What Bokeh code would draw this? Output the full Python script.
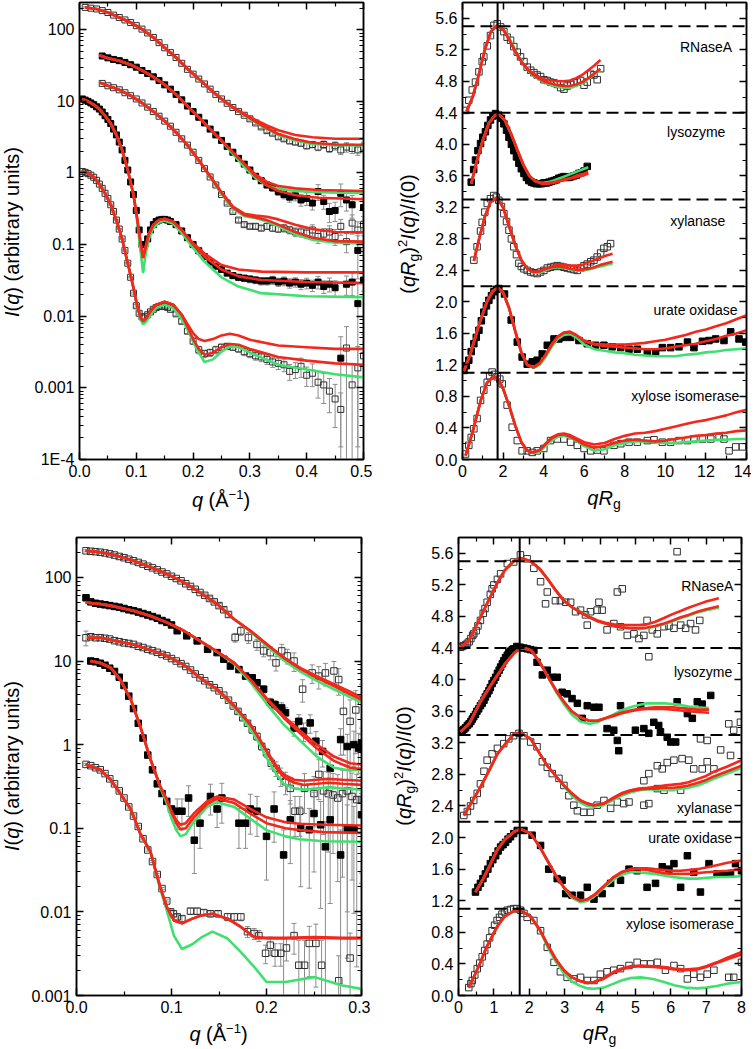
import math
from bokeh.plotting import figure
from bokeh.models import FixedTicker, LinearAxis, LogAxis, Span, Label, PrintfTickFormatter, Range1d, Div
from bokeh.layouts import row, column
from bokeh.embed import file_html
from bokeh.resources import INLINE

# ====================== DATA ======================
# ---- Panel A: I(q) vs q (top left) ----
A_RN_q = [0.01,0.02,0.03,0.04,0.05,0.06,0.07,0.08,0.09,0.10,0.11,0.12,0.13,0.14,0.15,0.16,0.17,0.18,0.19,0.20,
          0.21,0.22,0.23,0.24,0.25,0.26,0.27,0.28,0.29,0.30,0.31,0.32,0.33,0.34,0.35,0.36,0.37,0.38,0.39,0.40,
          0.41,0.42,0.43,0.44,0.45,0.46,0.47,0.48,0.49,0.50]
A_RN_I = [205,200,195,185,174,160,148,137,126,114,102,90,78,66,56,48,41,34,28,24,
          20.5,17.5,14.8,12.5,10.8,9.4,8.2,7.2,6.4,5.7,5.0,4.4,3.9,3.6,3.2,3.0,2.8,2.7,2.6,2.4,
          2.5,2.3,2.5,2.2,2.4,2.1,2.3,2.2,2.1,2.3]
A_RN_e = [0.02,0.02,0.02,0.02,0.02,0.02,0.02,0.02,0.02,0.02,0.02,0.02,0.02,0.02,0.02,0.02,0.02,0.02,0.02,0.02,
          0.02,0.02,0.02,0.02,0.02,0.03,0.03,0.03,0.04,0.04,0.05,0.05,0.06,0.06,0.07,0.07,0.08,0.08,0.09,0.10,
          0.10,0.11,0.12,0.12,0.13,0.14,0.15,0.15,0.16,0.17]
A_RN_cq = [0.01,0.03,0.05,0.07,0.09,0.11,0.13,0.15,0.17,0.19,0.21,0.23,0.25,0.27,0.29,0.31,0.33,0.35,0.38,0.41,0.45,0.50]
A_RN_r1 = [205,195,174,148,126,102,78,56,41,28.5,20.6,14.8,10.8,8.3,6.7,5.5,4.6,3.95,3.4,3.15,3.0,3.0]
A_RN_r2 = A_RN_r1[:13] + [8.2,6.5,5.2,4.2,3.5,2.95,2.65,2.5,2.48]
A_RN_gr = A_RN_r1[:13] + [8.2,6.4,5.1,4.1,3.4,2.85,2.55,2.45,2.42]

A_LY_q = [0.04,0.05,0.06,0.07,0.08,0.09,0.10,0.11,0.12,0.13,0.14,0.15,0.16,0.17,0.18,0.19,0.20,0.21,0.22,0.23,
          0.24,0.25,0.26,0.27,0.28,0.29,0.30,0.31,0.32,0.33,0.34,0.35,0.36,0.37,0.38,0.39,0.40,0.41,0.42,0.43,
          0.44,0.45,0.46,0.47,0.48,0.49,0.50]
A_LY_I = [43,40.5,38.5,37,35,32.5,30,27,24.5,22,19.5,17,14.8,12.5,10.5,8.6,7.2,6.0,5.0,4.1,
          3.4,2.85,2.35,1.95,1.6,1.33,1.1,0.9,0.78,0.68,0.62,0.55,0.5,0.46,0.48,0.42,0.44,0.38,0.55,0.4,
          0.29,0.3,0.52,0.42,0.36,0.083,0.33]
A_LY_e = [0.02,0.02,0.02,0.02,0.02,0.02,0.02,0.02,0.02,0.02,0.02,0.02,0.02,0.02,0.02,0.02,0.02,0.02,0.02,0.02,
          0.03,0.03,0.04,0.04,0.05,0.05,0.06,0.07,0.08,0.09,0.10,0.12,0.13,0.15,0.15,0.18,0.20,0.20,0.25,0.22,
          0.30,0.30,0.35,0.30,0.35,0.60,0.35]
A_LY_cq = [0.035,0.05,0.07,0.09,0.11,0.13,0.15,0.17,0.19,0.21,0.23,0.25,0.27,0.29,0.31,0.33,0.35,0.38,0.42,0.46,0.50]
A_LY_r1 = [44,40,37,32.5,27,22,17,12.5,8.6,6.0,4.1,2.85,1.95,1.35,0.95,0.75,0.66,0.61,0.58,0.57,0.56]
A_LY_r2 = A_LY_r1[:13] + [1.33,0.9,0.67,0.56,0.49,0.45,0.44,0.43]
A_LY_gr = A_LY_r1[:11] + [2.8,1.85,1.22,0.85,0.67,0.6,0.56,0.54,0.53,0.525]

A_XN_q = A_LY_q
A_XN_I = [17.8,16.5,15.5,14.5,13.2,12,10.8,9.5,8.3,7.2,6.2,5.3,4.5,3.7,3.0,2.45,1.95,1.5,1.15,0.88,
          0.68,0.5,0.38,0.29,0.22,0.19,0.18,0.18,0.17,0.18,0.17,0.165,0.17,0.16,0.15,0.15,0.145,0.16,0.13,0.14,
          0.15,0.13,0.18,0.11,0.2,0.16,0.19]
A_XN_e = [0.02,0.02,0.02,0.02,0.02,0.02,0.02,0.02,0.02,0.02,0.02,0.02,0.02,0.02,0.02,0.02,0.02,0.02,0.02,0.02,
          0.03,0.03,0.04,0.05,0.06,0.06,0.07,0.08,0.08,0.09,0.10,0.10,0.12,0.12,0.14,0.15,0.16,0.18,0.20,0.20,
          0.22,0.25,0.25,0.30,0.30,0.30,0.30]
A_XN_cq = [0.035,0.05,0.07,0.09,0.11,0.13,0.15,0.17,0.19,0.21,0.23,0.25,0.27,0.29,0.31,0.33,0.35,0.38,0.41,0.45,0.50]
A_XN_r1 = [18.4,16.5,14.5,12,9.5,7.2,5.3,3.7,2.45,1.5,0.9,0.54,0.34,0.27,0.255,0.245,0.225,0.19,0.165,0.15,0.148]
A_XN_r2 = A_XN_r1[:10] + [0.9,0.53,0.33,0.26,0.24,0.22,0.19,0.15,0.125,0.112,0.11]
A_XN_gr = A_XN_r1[:10] + [0.88,0.51,0.32,0.25,0.235,0.21,0.18,0.14,0.117,0.106,0.104]

A_UO_q = [0.005,0.01,0.015,0.02,0.025,0.03,0.035,0.04,0.045,0.05,0.055,0.06,0.065,0.07,0.075,0.08,0.085,0.09,0.095,0.10,
          0.105,0.11,0.115,0.12,0.125,0.13,0.135,0.14,0.145,0.15,0.155,0.16,
          0.17,0.18,0.19,0.20,0.21,0.22,0.23,0.24,0.25,0.26,0.27,0.28,0.29,0.30,0.31,0.32,0.33,0.34,0.35,0.36,
          0.37,0.38,0.39,0.40,0.41,0.42,0.43,0.44,0.45,0.46,0.47,0.48,0.49,0.50]
A_UO_I = [10.8,10.4,10,9.5,9,8.4,7.8,7.1,6.3,5.6,4.9,4.1,3.4,2.7,2.1,1.5,1.1,0.75,0.5,0.3,
          0.16,0.1,0.1,0.12,0.16,0.19,0.21,0.22,0.225,0.225,0.22,0.21,
          0.19,0.155,0.125,0.1,0.082,0.068,0.057,0.05,0.045,0.04,0.037,0.035,0.034,0.033,0.032,0.031,0.031,0.032,0.030,0.031,
          0.029,0.030,0.028,0.029,0.027,0.03,0.026,0.028,0.025,0.0026,0.028,0.03,0.015,0.032]
A_UO_e = [0.02,0.02,0.02,0.02,0.02,0.02,0.02,0.02,0.02,0.02,0.02,0.02,0.02,0.02,0.02,0.02,0.02,0.02,0.02,0.02,
          0.05,0.08,0.08,0.06,0.05,0.04,0.03,0.03,0.03,0.03,0.03,0.03,
          0.03,0.03,0.04,0.05,0.05,0.06,0.07,0.08,0.08,0.09,0.10,0.10,0.10,0.11,0.11,0.12,0.12,0.13,0.13,0.14,
          0.15,0.15,0.16,0.17,0.18,0.20,0.20,0.22,0.25,0.99,0.30,0.35,0.99,0.30]
A_UO_cq = [0.005,0.015,0.025,0.035,0.045,0.055,0.065,0.075,0.085,0.095,0.102,0.108,0.112,0.116,0.122,0.13,0.14,0.15,
           0.165,0.18,0.20,0.22,0.25,0.28,0.32,0.40,0.50]
A_UO_r1 = [10.8,10,9,7.8,6.3,4.9,3.4,2.1,1.1,0.5,0.22,0.1,0.065,0.09,0.14,0.19,0.22,0.23,0.21,0.16,0.105,0.075,0.052,
           0.045,0.042,0.041,0.041]
A_UO_r2 = A_UO_r1[:19] + [0.16,0.10,0.068,0.045,0.036,0.032,0.030,0.029]
A_UO_gr = A_UO_r1[:10] + [0.2,0.075,0.04,0.07,0.12,0.17,0.205,0.215,0.195,0.145,0.09,0.058,0.035,0.026,0.021,0.019,0.0185]

A_XI_q = A_UO_q
A_XI_I = [1.05,1.02,0.98,0.93,0.87,0.79,0.7,0.61,0.52,0.44,0.36,0.29,0.22,0.165,0.12,0.083,0.055,0.035,0.021,0.014,
          0.011,0.0098,0.0098,0.0105,0.0115,0.0125,0.0132,0.0137,0.0138,0.0137,0.0133,0.0125,
          0.0108,0.0085,0.0062,0.0045,0.0034,0.003,0.0031,0.0034,0.0037,0.0038,0.0037,0.0035,0.0032,0.003,0.0028,0.0027,
          0.0025,0.0023,0.0022,0.0021,0.0017,0.0018,0.002,0.0015,0.0016,0.0012,0.0011,0.0009,0.0007,0.0005,
          0.0036,0.0011,0.0019,0.0028]
A_XI_e = [0.02,0.02,0.02,0.02,0.02,0.02,0.02,0.02,0.02,0.02,0.02,0.02,0.02,0.02,0.02,0.02,0.02,0.02,0.03,0.04,
          0.05,0.05,0.05,0.05,0.05,0.05,0.05,0.05,0.05,0.05,0.05,0.05,
          0.06,0.07,0.08,0.10,0.12,0.12,0.12,0.12,0.10,0.10,0.10,0.10,0.12,0.12,0.13,0.14,0.15,0.16,0.18,0.20,
          0.25,0.25,0.30,0.30,0.35,0.40,0.45,0.50,0.60,0.70,0.99,0.99,0.99,0.99]
A_XI_cq = [0.005,0.015,0.025,0.035,0.045,0.055,0.065,0.075,0.085,0.095,0.102,0.108,0.112,0.118,0.125,0.135,0.15,0.165,
           0.18,0.19,0.20,0.21,0.22,0.235,0.25,0.265,0.28,0.30,0.35,0.40,0.45,0.50]
A_XI_r1 = [1.05,1.0,0.88,0.7,0.52,0.36,0.22,0.12,0.055,0.025,0.0135,0.0095,0.0085,0.0095,0.0118,0.0145,0.016,0.0145,
           0.0105,0.0078,0.0058,0.0048,0.0045,0.0048,0.0054,0.0057,0.0054,0.0047,0.0039,0.0037,0.0035,0.0035]
A_XI_r2 = A_XI_r1[:19] + [0.0072,0.0048,0.0035,0.0029,0.0031,0.0037,0.0041,0.0040,0.0035,0.0027,0.0024,0.0022,0.0021]
A_XI_gr = [1.05,1.0,0.88,0.7,0.52,0.36,0.22,0.12,0.055,0.025,0.013,0.0088,0.0077,0.0085,0.0105,0.013,0.0145,0.013,
           0.0092,0.0066,0.0044,0.0031,0.0023,0.0025,0.0032,0.0038,0.0037,0.0031,0.0021,0.0018,0.00155,0.0014]

# ---- Panel B: Kratky (top right) ----
B_RN_x = [0.15,0.31,0.48,0.64,0.81,0.97,1.05,1.22,1.38,1.55,1.71,1.88,2.04,2.2,2.37,2.53,2.7,2.86,3.03,3.19,3.36,3.52,
          3.68,3.85,4.01,4.18,4.34,4.51,4.67,4.84,5.0,5.16,5.33,5.49,5.66,5.82,5.99,6.15,6.32,6.48,6.64,6.81]
B_RN_y = [4.43,4.56,4.69,4.79,4.92,5.05,5.11,5.25,5.38,5.51,5.53,5.49,5.43,5.36,5.32,5.24,5.17,5.11,5.05,4.98,4.94,4.91,
          4.88,4.86,4.82,4.81,4.79,4.78,4.76,4.72,4.70,4.74,4.76,4.78,4.79,4.81,4.75,4.79,4.89,4.88,4.82,4.96]
B_RN_cx = [0.2,0.5,0.8,1.1,1.4,1.7,2.0,2.3,2.6,2.9,3.2,3.5,3.8,4.1,4.4,4.7,5.0,5.3,5.6,5.9,6.2,6.5,6.8]
B_RN_r1 = [4.42,4.6,4.88,5.2,5.43,5.51,5.46,5.33,5.18,5.05,4.96,4.9,4.85,4.82,4.81,4.8,4.8,4.81,4.84,4.88,4.94,5.0,5.07]
B_RN_r2 = [4.42,4.6,4.88,5.2,5.43,5.51,5.46,5.33,5.18,5.05,4.95,4.88,4.83,4.79,4.77,4.75,4.74,4.74,4.76,4.79,4.84,4.9,4.96]
B_RN_gr = [4.42,4.6,4.88,5.2,5.43,5.51,5.47,5.35,5.2,5.06,4.95,4.87,4.82,4.78,4.75,4.73,4.72,4.72,4.74,4.78,4.83,4.89,4.95]

B_LY_x = [0.43,0.55,0.64,0.76,0.89,1.0,1.13,1.25,1.38,1.5,1.63,1.79,1.92,2.04,2.17,2.29,2.41,2.53,2.66,2.78,2.9,3.03,
          3.15,3.27,3.4,3.52,3.64,3.77,3.89,4.01,4.14,4.26,4.38,4.51,4.63,4.75,4.88,5.0,5.12,5.25,5.37,5.49,5.62,
          5.74,5.86,5.99,6.15]
B_LY_y = [3.52,3.68,3.80,3.92,4.01,4.09,4.16,4.24,4.31,4.36,4.39,4.37,4.33,4.26,4.18,4.09,4.0,3.92,3.84,3.76,3.69,3.63,
          3.58,3.54,3.52,3.51,3.50,3.50,3.50,3.51,3.51,3.52,3.53,3.54,3.55,3.57,3.58,3.59,3.58,3.58,3.59,3.60,3.61,
          3.63,3.64,3.66,3.72]
B_LY_cx = [0.43,0.7,1.0,1.3,1.6,1.8,2.1,2.4,2.7,3.0,3.3,3.6,3.9,4.2,4.5,4.8,5.1,5.4,5.7,6.0,6.2]
B_LY_r1 = [3.50,3.78,4.05,4.27,4.37,4.38,4.30,4.13,3.93,3.74,3.60,3.53,3.51,3.51,3.52,3.54,3.56,3.58,3.61,3.63,3.65]
B_LY_r2 = B_LY_r1[:12] + [3.50,3.50,3.51,3.53,3.55,3.57,3.59,3.61,3.63]
B_LY_gr = B_LY_r1[:12] + [3.51,3.52,3.54,3.57,3.60,3.63,3.66,3.69,3.71]

B_XN_x = [0.56,0.72,0.89,0.97,1.1,1.22,1.38,1.54,1.66,1.79,1.92,2.04,2.17,2.29,2.41,2.53,2.66,2.78,2.9,3.03,3.19,3.36,
          3.52,3.68,3.85,4.01,4.18,4.34,4.51,4.67,4.84,5.0,5.16,5.33,5.49,5.66,5.82,5.99,6.15,6.32,6.48,6.64,6.81,
          6.97,7.14,7.3]
B_XN_y = [2.53,2.70,2.90,3.01,3.14,3.25,3.31,3.35,3.33,3.29,3.21,3.12,3.02,2.91,2.80,2.70,2.60,2.49,2.45,2.42,2.40,2.38,
          2.37,2.36,2.38,2.40,2.43,2.44,2.45,2.46,2.45,2.44,2.43,2.42,2.41,2.40,2.43,2.46,2.48,2.51,2.53,2.57,2.62,
          2.68,2.70,2.74]
B_XN_cx = [0.56,0.8,1.1,1.4,1.7,2.0,2.3,2.6,2.9,3.2,3.5,3.8,4.1,4.4,4.7,5.0,5.3,5.6,5.9,6.2,6.5,6.8,7.1,7.4]
B_XN_r1 = [2.52,2.78,3.08,3.28,3.32,3.2,2.96,2.72,2.53,2.42,2.38,2.39,2.42,2.45,2.47,2.47,2.46,2.46,2.47,2.5,2.53,2.56,
           2.59,2.61]
B_XN_r2 = B_XN_r1[:10] + [2.38,2.39,2.42,2.44,2.45,2.44,2.42,2.41,2.41,2.42,2.44,2.47,2.49,2.51]
B_XN_gr = B_XN_r1[:10] + [2.37,2.37,2.40,2.43,2.44,2.43,2.41,2.40,2.40,2.41,2.43,2.45,2.47,2.49]

B_UO_x = [0.07,0.19,0.31,0.43,0.56,0.68,0.81,0.93,1.05,1.18,1.3,1.43,1.55,1.67,1.79,2.07,2.4,2.7,2.94,3.19,3.44,3.68,
          3.93,4.18,4.51,4.75,5.0,5.33,5.74,6.15,6.56,6.97,7.38,7.8,8.21,8.62,9.11,9.52,9.85,10.26,10.67,11.09,11.41,
          11.83,12.15,12.48,12.89,13.22,13.63,13.96]
B_UO_y = [1.13,1.19,1.26,1.37,1.47,1.55,1.64,1.76,1.87,1.95,2.02,2.08,2.13,2.16,2.17,2.10,1.77,1.49,1.30,1.21,1.24,1.26,
          1.34,1.45,1.53,1.53,1.55,1.55,1.51,1.47,1.45,1.45,1.43,1.42,1.40,1.40,1.36,1.35,1.42,1.42,1.43,1.49,1.42,
          1.50,1.51,1.53,1.51,1.62,1.53,1.49]
B_UO_cx = [0.07,0.4,0.8,1.2,1.5,1.75,2.0,2.3,2.6,2.9,3.2,3.5,3.8,4.1,4.4,4.7,5.0,5.3,5.6,6.0,6.5,7.0,7.5,8.0,8.5,9.0,
           9.5,10.0,10.5,11.0,11.5,12.0,12.5,13.0,13.5,14.0]
B_UO_r1 = [1.12,1.35,1.7,2.0,2.14,2.18,2.12,1.92,1.63,1.36,1.2,1.17,1.22,1.33,1.46,1.56,1.61,1.62,1.58,1.51,1.47,1.46,
           1.46,1.46,1.47,1.48,1.5,1.52,1.55,1.58,1.62,1.65,1.69,1.73,1.78,1.83]
B_UO_r2 = B_UO_r1[:19] + [1.50,1.46,1.44,1.43,1.42,1.41,1.40,1.40,1.41,1.43,1.45,1.47,1.50,1.53,1.57,1.60,1.64]
B_UO_gr = B_UO_r1[:11] + [1.16,1.2,1.3,1.43,1.53,1.58,1.59,1.55,1.46,1.40,1.38,1.36,1.35,1.33,1.32,1.31,1.31,1.31,
                          1.33,1.34,1.36,1.37,1.39,1.40,1.41]

B_XI_x = [0.15,0.31,0.43,0.56,0.72,0.89,1.05,1.22,1.34,1.46,1.58,1.71,1.84,1.96,2.2,2.45,2.7,2.94,3.19,3.44,3.68,4.01,
          4.34,4.67,5.0,5.33,5.66,5.99,6.32,6.64,6.97,7.47,7.8,8.21,8.62,9.11,9.44,9.85,10.26,10.67,11.09,11.41,11.83,
          12.24,12.65,12.89,13.14,13.47,13.8]
B_XI_y = [0.07,0.18,0.28,0.39,0.52,0.75,0.88,0.98,1.06,1.11,1.08,1.05,1.02,0.96,0.69,0.41,0.24,0.11,0.11,0.09,0.11,0.14,
          0.24,0.26,0.26,0.22,0.18,0.14,0.11,0.12,0.11,0.18,0.20,0.22,0.22,0.24,0.25,0.22,0.22,0.24,0.24,0.26,0.26,
          0.26,0.28,0.26,0.11,0.16,0.16]
B_XI_cx = [0.15,0.5,0.9,1.2,1.5,1.75,2.0,2.3,2.6,2.9,3.2,3.5,3.8,4.1,4.4,4.7,5.0,5.3,5.6,6.0,6.5,7.0,7.5,8.0,8.5,9.0,
           9.5,10.0,10.5,11.0,11.5,12.0,12.5,13.0,13.5,14.0]
B_XI_r1 = [0.05,0.35,0.75,0.97,1.05,1.03,0.9,0.68,0.43,0.22,0.11,0.09,0.12,0.2,0.28,0.32,0.33,0.31,0.27,0.22,0.19,0.21,
           0.26,0.30,0.33,0.34,0.36,0.39,0.42,0.45,0.48,0.5,0.53,0.56,0.6,0.63]
B_XI_r2 = B_XI_r1[:14] + [0.27,0.31,0.32,0.29,0.25,0.19,0.15,0.17,0.21,0.24,0.25,0.24,0.23,0.24,0.26,0.28,0.3,0.31,
                          0.33,0.34,0.36,0.37]
B_XI_gr = B_XI_r1[:11] + [0.08,0.1,0.17,0.24,0.29,0.3,0.28,0.24,0.17,0.11,0.13,0.18,0.21,0.23,0.23,0.22,0.21,0.21,
                          0.22,0.23,0.24,0.25,0.25,0.26,0.26]

# ---- Panel C: I(q) vs q (bottom left) ----
C_RN_q = [0.01,0.015,0.02,0.025,0.03,0.035,0.04,0.045,0.05,0.055,0.06,0.065,0.07,0.075,0.08,0.085,0.09,0.095,0.10,0.105,
          0.11,0.115,0.12,0.125,0.13,0.135,0.14,0.145,0.15,0.155,0.16,
          0.167,0.173,0.181,0.19,0.197,0.204,0.21,0.216,0.222,0.229,0.238,0.248,0.255,0.262,0.271,0.276,0.281,0.288,
          0.294,0.30]
C_RN_I = [208,205,203,200,196,191,185,178,172,165,158,151,144,136,130,123,116,110,103,97,
          91,84,78,72,66,61,56,51,46,41,36,
          19.1,22.9,19.1,15.8,13.2,12.6,9.5,13.2,11.5,10,4.6,7.2,6.6,7.2,7.6,6.0,2.5,1.9,2.6,3.3]
C_RN_e = [0.03,0.03,0.03,0.03,0.03,0.03,0.03,0.03,0.03,0.03,0.03,0.03,0.03,0.03,0.03,0.03,0.03,0.03,0.03,0.03,
          0.03,0.03,0.03,0.03,0.03,0.04,0.05,0.05,0.06,0.06,0.07,
          0.12,0.12,0.15,0.15,0.15,0.18,0.2,0.2,0.2,0.25,0.3,0.25,0.3,0.3,0.3,0.35,0.7,0.8,0.7,0.6]
C_RN_cq = [0.0095,0.025,0.04,0.06,0.078,0.095,0.113,0.13,0.148,0.166,0.183,0.2,0.218,0.236,0.253,0.271,0.288,0.30]
C_RN_r1 = [209,200,185,158,132,110,87,66,48,31.6,23,16,11,8.2,6.6,5.3,4.3,3.7]
C_RN_r2 = C_RN_r1[:13] + [8.0,6.3,5.0,4.0,3.45]
C_RN_gr = C_RN_r1[:10] + [22.5,15.2,10.2,7.4,5.8,4.6,3.7,3.2]

C_LY_q = [0.01,0.015,0.02,0.025,0.03,0.035,0.04,0.045,0.05,0.055,0.06,0.065,0.07,0.075,0.08,0.085,0.09,0.095,0.10,
          0.106,0.116,0.127,0.138,0.148,0.155,0.162,0.171,0.178,0.185,0.19,0.197,0.204,0.209,0.216,0.22,0.229,0.234,
          0.239,0.246,0.252,0.259,0.267,0.278,0.285,0.292,0.297,0.30]
C_LY_I = [57,51,49,48,47,46,45,44,42.5,41,40,38.5,37,35.5,34,32.5,30.5,29,27,
          23,20,17.4,13.8,12.6,10.5,8.7,7.9,6.6,6.3,5.5,4.6,3.2,3.0,2.75,2.4,1.58,1.9,1.45,1.82,1.1,0.83,0.52,1.15,
          0.95,1.0,0.91,1.05]
C_LY_e = [0.02,0.02,0.02,0.02,0.02,0.02,0.02,0.02,0.02,0.02,0.02,0.02,0.02,0.02,0.02,0.02,0.02,0.02,0.02,
          0.03,0.03,0.03,0.04,0.04,0.05,0.05,0.06,0.07,0.08,0.08,0.10,0.12,0.12,0.15,0.15,0.20,0.20,0.25,0.25,
          0.30,0.35,0.40,0.35,0.40,0.45,0.50,0.50]
C_LY_cq = C_RN_cq
C_LY_r1 = [50,48,45,40,34.5,29,23,17.4,13,9.5,6.0,3.6,2.2,1.45,1.0,0.72,0.6,0.58]
C_LY_r2 = C_LY_r1[:11] + [3.5,2.1,1.35,0.9,0.64,0.53,0.51]
C_LY_gr = C_LY_r1[:8] + [12.8,9.2,5.6,3.1,1.75,1.1,0.72,0.53,0.49,0.50]

C_XN_q = [0.01,0.015,0.02,0.025,0.03,0.035,0.04,0.045,0.05,0.055,0.06,0.065,0.07,0.075,0.08,0.085,0.09,0.095,0.10,0.105,
          0.11,0.115,0.12,0.125,0.13,0.135,0.14,0.145,0.15,0.155,0.16,0.165,0.17,0.175,0.18,0.185,0.19,0.195,0.20,
          0.205,0.21,0.215,0.22,0.225,0.23,0.235,0.24,0.25,0.255,0.26,0.265,0.27,0.275,0.28,0.285,0.29,0.295,0.30]
C_XN_I = [19,19.5,19,19,18.7,18.3,17.5,17,16.5,16.2,15.8,15,14.5,13.8,13.3,12.7,12,11.5,10.7,10,
          9.3,8.6,7.8,7,6.3,5.8,5.2,4.8,4.4,3.9,3.4,2.9,2.5,2.1,1.8,1.5,1.25,0.95,0.8,
          0.6,0.52,0.42,0.36,0.3,0.16,0.16,0.3,0.26,0.44,0.28,0.26,0.25,0.23,0.26,0.28,0.24,0.22,0.22]
C_XN_e = [0.2,0.05,0.03,0.03,0.03,0.03,0.03,0.03,0.03,0.03,0.03,0.03,0.03,0.03,0.03,0.03,0.03,0.03,0.03,0.03,
          0.03,0.03,0.03,0.03,0.03,0.03,0.03,0.03,0.03,0.03,0.04,0.05,0.05,0.06,0.07,0.08,0.10,0.10,0.12,
          0.15,0.2,0.25,0.3,0.35,0.5,0.5,0.5,0.6,0.5,0.7,0.8,0.8,0.9,0.9,0.99,0.9,0.99,0.9]
C_XN_cq = [0.011,0.025,0.04,0.06,0.078,0.095,0.113,0.13,0.148,0.166,0.183,0.192,0.20,0.21,0.218,0.229,0.24,0.253,0.265,
           0.28,0.30]
C_XN_r1 = [19,19,17.5,15.8,13.5,11.5,9,6.3,4.6,2.9,1.74,1.2,0.85,0.56,0.44,0.38,0.37,0.38,0.39,0.38,0.37]
C_XN_r2 = C_XN_r1[:12] + [0.83,0.53,0.41,0.35,0.33,0.34,0.35,0.34,0.33]
C_XN_gr = C_XN_r1[:8] + [4.5,2.75,1.55,1.05,0.7,0.45,0.34,0.3,0.29,0.3,0.31,0.3,0.29]

C_UO_q = [0.015,0.02,0.025,0.03,0.035,0.04,0.045,0.05,0.055,0.06,0.065,0.07,0.075,0.08,0.085,0.09,0.095,0.10,
          0.106,0.111,0.118,0.124,0.13,0.141,0.148,0.153,0.171,0.178,0.183,0.19,0.20,0.208,0.218,0.225,0.236,0.245,
          0.25,0.257,0.262,0.267,0.278,0.285,0.292,0.30]
C_UO_I = [10,9.8,9.4,8.9,8.2,7.5,6.4,5.1,3.8,2.7,1.8,1.2,0.75,0.5,0.34,0.26,0.21,0.17,
          0.16,0.16,0.23,0.072,0.115,0.24,0.17,0.23,0.115,0.115,0.17,0.16,0.08,0.17,0.048,0.126,0.1,0.096,0.15,0.11,
          0.06,0.126,0.048,0.1,0.096,0.145]
C_UO_e = [0.03,0.03,0.03,0.03,0.03,0.03,0.03,0.03,0.03,0.03,0.03,0.03,0.03,0.03,0.03,0.03,0.03,0.03,
          0.4,0.4,0.4,0.6,0.5,0.4,0.4,0.5,0.5,0.5,0.5,0.5,0.7,0.6,0.99,0.7,0.8,0.8,0.8,0.9,0.99,0.9,0.99,0.9,0.9,0.8]
C_UO_cq = [0.0147,0.025,0.036,0.046,0.057,0.067,0.078,0.088,0.095,0.10,0.105,0.1095,0.115,0.1235,0.1375,0.148,0.166,
           0.183,0.20,0.22,0.235,0.26,0.30]
C_UO_r1 = [10,9.5,8.3,6,3.5,1.66,0.66,0.32,0.22,0.16,0.125,0.11,0.115,0.15,0.21,0.24,0.22,0.17,0.135,0.118,0.113,0.11,
           0.108]
C_UO_r2 = C_UO_r1[:9] + [0.155,0.115,0.097,0.1,0.135,0.195,0.225,0.2,0.15,0.115,0.1,0.095,0.09,0.088]
C_UO_gr = C_UO_r1[:7] + [0.31,0.2,0.13,0.095,0.08,0.085,0.12,0.18,0.205,0.18,0.13,0.095,0.08,0.074,0.07,0.069]

C_XI_q = [0.01,0.015,0.02,0.025,0.03,0.035,0.04,0.045,0.05,0.055,0.06,0.065,0.07,0.075,0.08,0.085,0.09,0.095,
          0.099,0.102,0.106,0.111,0.12,0.127,0.134,0.141,0.149,0.159,0.166,0.173,0.18,0.187,0.192,0.199,0.204,0.209,
          0.215,0.221,0.229,0.234,0.24,0.245,0.252,0.258,0.276,0.288]
C_XI_I = [0.58,0.56,0.53,0.5,0.45,0.39,0.34,0.28,0.23,0.18,0.14,0.105,0.075,0.055,0.04,0.028,0.019,0.0135,
          0.01,0.0095,0.0087,0.0083,0.0102,0.0102,0.0098,0.0095,0.0095,0.0087,0.0087,0.0087,0.0058,0.0055,0.0052,
          0.0032,0.004,0.0032,0.0032,0.0037,0.0052,0.0023,0.0023,0.0042,0.0042,0.0023,0.0015,0.0028]
C_XI_e = [0.03,0.03,0.03,0.03,0.03,0.03,0.03,0.03,0.03,0.03,0.03,0.03,0.03,0.03,0.03,0.03,0.03,0.03,
          0.08,0.08,0.08,0.08,0.08,0.08,0.08,0.08,0.08,0.10,0.10,0.10,0.15,0.15,0.15,0.25,0.25,0.30,0.30,0.30,
          0.40,0.99,0.99,0.60,0.70,0.99,0.99,0.99]
C_XI_cq = [0.0095,0.025,0.036,0.046,0.057,0.067,0.078,0.083,0.088,0.095,0.1025,0.111,0.122,0.132,0.143,0.159,0.173,
           0.187,0.20,0.22,0.25,0.28,0.30]
C_XI_r1 = [0.58,0.5,0.38,0.26,0.17,0.087,0.052,0.032,0.02,0.0115,0.0079,0.0073,0.0083,0.0091,0.0095,0.0083,0.0066,
           0.005,0.0049,0.0049,0.005,0.0049,0.0049]
C_XI_r2 = C_XI_r1[:18] + [0.0048,0.0048,0.0049,0.0048,0.0048]
C_XI_gr = C_XI_r1[:7] + [0.031,0.019,0.0105,0.0052,0.0036,0.0041,0.005,0.0058,0.0048,0.0033,0.0022,0.00145,0.00145,
                         0.00166,0.00132,0.0012]

# ---- Panel D: Kratky (bottom right) ----
D_RN_x = [0.06,0.1,0.15,0.2,0.25,0.3,0.35,0.4,0.43,0.5,0.55,0.62,0.7,0.75,0.81,0.9,0.95,1.0,1.1,1.19,1.38,1.56,1.75,
          1.94,2.13,2.32,2.46,2.51,2.74,2.88,3.03,3.17,3.31,3.45,3.59,3.64,3.73,3.92,3.97,4.06,4.2,4.39,4.49,4.58,
          4.63,4.77,4.96,5.1,5.24,5.33,5.38,5.48,5.62,5.81,5.95,6.09,6.18,6.28,6.42,6.56,6.7,6.82]
D_RN_y = [4.41,4.42,4.43,4.44,4.46,4.48,4.52,4.56,4.58,4.62,4.68,4.75,4.84,4.9,4.98,5.08,5.15,5.2,5.27,5.34,5.47,5.49,
          5.58,5.53,5.41,5.24,4.96,5.11,5.0,5.0,4.98,4.98,4.86,4.88,4.82,4.69,4.86,4.88,4.98,4.88,4.63,4.71,5.11,4.67,
          5.15,4.56,4.58,4.52,4.56,4.75,4.29,4.63,4.58,4.67,4.68,4.65,5.62,4.69,4.65,4.71,4.63,4.75]
D_RN_cx = [0.06,0.3,0.62,0.9,1.09,1.3,1.56,1.75,2.04,2.3,2.51,2.75,2.98,3.2,3.45,3.7,3.92,4.15,4.39,4.6,4.86,5.1,5.33,
           5.55,5.81,6.05,6.28,6.5,6.75,7.0,7.36]
D_RN_r1 = [4.41,4.5,4.79,5.05,5.22,5.38,5.5,5.54,5.5,5.4,5.28,5.13,5.0,4.92,4.85,4.79,4.75,4.72,4.70,4.69,4.69,4.69,
           4.70,4.73,4.78,4.83,4.87,4.91,4.95,4.99,5.03]
D_RN_r2 = D_RN_r1[:14] + [4.85,4.79,4.74,4.71,4.68,4.66,4.65,4.65,4.66,4.68,4.71,4.75,4.79,4.82,4.86,4.89,4.93]
D_RN_gr = D_RN_r1[:14] + [4.86,4.80,4.75,4.71,4.68,4.66,4.65,4.64,4.65,4.67,4.70,4.74,4.78,4.81,4.85,4.88,4.91]

D_LY_x = [0.06,0.1,0.15,0.2,0.25,0.3,0.35,0.39,0.43,0.48,0.52,0.57,0.62,0.67,0.72,0.76,0.81,0.86,0.9,0.95,1.0,1.05,
          1.1,1.15,1.19,1.24,1.28,1.33,1.38,1.42,1.47,1.52,1.56,1.65,1.75,1.85,1.94,2.04,2.13,2.22,2.37,2.51,2.65,
          2.79,2.93,3.07,3.21,3.36,3.5,3.64,3.83,3.97,4.2,4.39,4.49,4.53,4.58,5.0,5.15,5.24,5.38,5.52,5.66,5.71,5.9,
          6.0,6.14,6.18,6.47,6.61,6.75,6.89,7.13]
D_LY_y = [3.34,3.35,3.37,3.39,3.42,3.44,3.47,3.5,3.53,3.56,3.6,3.63,3.67,3.7,3.74,3.78,3.82,3.86,3.9,3.95,3.99,4.03,
          4.08,4.12,4.16,4.2,4.24,4.28,4.31,4.34,4.36,4.38,4.39,4.42,4.41,4.40,4.39,4.38,4.37,4.22,4.06,4.12,4.03,
          4.03,3.84,3.82,3.76,3.70,3.51,3.67,3.65,3.65,3.38,3.36,3.23,3.10,3.67,3.36,3.67,3.38,3.32,3.46,3.42,3.34,
          3.27,3.21,3.21,3.72,3.57,3.51,3.72,3.69,3.80]
D_LY_cx = [0.06,0.3,0.62,0.9,1.09,1.3,1.56,1.75,2.04,2.3,2.51,2.75,2.98,3.2,3.45,3.7,3.92,4.15,4.39,4.6,4.86,5.1,5.33,
           5.55,5.81,6.05,6.28,6.5,6.75,7.08]
D_LY_r1 = [3.34,3.44,3.72,3.92,4.05,4.19,4.33,4.40,4.38,4.22,4.05,3.87,3.72,3.60,3.52,3.48,3.48,3.51,3.54,3.57,3.60,
           3.62,3.63,3.63,3.63,3.62,3.61,3.60,3.59,3.58]
D_LY_r2 = D_LY_r1[:14] + [3.52,3.48,3.48,3.51,3.55,3.58,3.61,3.63,3.64,3.65,3.65,3.65,3.64,3.63,3.62,3.62]
D_LY_gr = D_LY_r1[:11] + [3.85,3.69,3.56,3.47,3.44,3.46,3.51,3.56,3.61,3.65,3.68,3.70,3.70,3.70,3.69,3.68,3.66,3.65,
                          3.64]

D_XN_x = [0.15,0.25,0.34,0.43,0.53,0.62,0.72,0.81,0.95,1.1,1.28,1.42,1.56,1.71,1.85,2.04,2.22,2.37,2.51,2.65,2.84,
          2.98,3.12,3.26,3.36,3.54,3.73,3.92,4.11,4.3,4.49,4.67,4.82,5.24,5.38,5.62,5.81,6.28,5.24,5.38,5.62,5.76,
          5.9,6.09,6.32,6.51,6.65,6.89,7.03,7.22,6.84,7.03,7.41,7.69,7.64,7.78,7.97]
D_XN_y = [2.28,2.33,2.40,2.47,2.56,2.68,2.84,2.98,3.06,3.13,3.19,3.25,3.29,3.32,3.29,3.21,3.15,2.96,2.89,2.81,2.75,
          2.66,2.53,2.41,2.34,2.32,2.32,2.41,2.47,2.37,2.45,2.43,2.45,2.41,2.43,2.62,2.60,2.60,2.72,2.81,2.91,2.87,
          2.95,2.98,3.0,2.98,2.87,2.87,2.96,2.87,3.25,3.23,3.11,3.04,3.44,3.36,3.46]
D_XN_cx = [0.15,0.35,0.62,0.9,1.1,1.35,1.56,1.75,2.04,2.3,2.51,2.75,2.98,3.2,3.45,3.65,3.83,4.1,4.39,4.6,4.86,5.1,5.33,
           5.55,5.81,6.05,6.28,6.5,6.75,7.0,7.2,7.6,8.0]
D_XN_r1 = [2.28,2.43,2.64,2.88,3.06,3.2,3.31,3.33,3.25,3.06,2.91,2.78,2.66,2.56,2.47,2.43,2.41,2.43,2.51,2.56,2.6,
           2.62,2.63,2.64,2.66,2.67,2.68,2.7,2.74,2.78,2.83,2.9,2.98]
D_XN_r2 = D_XN_r1[:18] + [2.50,2.55,2.59,2.61,2.62,2.62,2.63,2.63,2.64,2.66,2.69,2.73,2.77,2.84,2.91]
D_XN_gr = D_XN_r1[:12] + [2.65,2.53,2.44,2.40,2.39,2.41,2.48,2.53,2.57,2.6,2.61,2.61,2.6,2.6,2.62,2.63,2.66,2.7,
                          2.74,2.81,2.88]

D_UO_x = [0.48,0.55,0.62,0.69,0.76,0.83,0.9,0.97,1.05,1.12,1.19,1.26,1.33,1.4,1.47,1.56,1.66,1.85,2.08,2.32,2.55,
          2.79,2.93,3.03,3.21,3.45,3.64,3.83,4.06,4.3,4.58,4.82,5.05,5.33,5.57,5.76,5.95,6.09,6.28,6.47,6.65,6.84,
          7.08,7.31,7.5,7.69,7.83,8.0]
D_UO_y = [1.31,1.37,1.42,1.48,1.54,1.6,1.67,1.72,1.77,1.83,1.88,1.91,1.94,1.98,2.01,2.05,2.09,2.09,2.03,1.9,1.6,
          1.48,1.46,1.29,1.27,1.27,1.37,1.22,1.29,1.42,1.46,1.6,1.58,1.37,1.42,1.63,1.6,1.67,1.37,1.77,1.56,1.31,
          1.67,1.54,1.54,1.54,1.67,1.58]
D_UO_cx = [0.48,0.7,0.9,1.09,1.3,1.56,1.75,2.04,2.3,2.51,2.75,2.98,3.2,3.45,3.65,3.83,4.1,4.39,4.6,4.86,5.1,5.33,
           5.55,5.81,6.05,6.28,6.5,6.75,7.0,7.3,7.6,8.0]
D_UO_r1 = [1.31,1.48,1.66,1.84,1.97,2.07,2.11,2.05,1.88,1.71,1.52,1.37,1.26,1.2,1.22,1.27,1.38,1.5,1.56,1.6,1.61,
           1.61,1.6,1.59,1.58,1.58,1.59,1.6,1.62,1.65,1.68,1.71]
D_UO_r2 = D_UO_r1[:19] + [1.6,1.6,1.59,1.57,1.55,1.54,1.54,1.54,1.55,1.56,1.57,1.58,1.6]
D_UO_gr = D_UO_r1[:11] + [1.36,1.24,1.18,1.2,1.25,1.36,1.47,1.53,1.56,1.56,1.55,1.54,1.52,1.5,1.49,1.48,1.48,1.49,
                          1.5,1.5,1.51]

D_XI_x = [0.29,0.35,0.39,0.46,0.53,0.6,0.67,0.74,0.81,0.88,0.95,1.02,1.09,1.16,1.23,1.3,1.38,1.47,1.56,1.65,1.75,
          1.85,1.94,2.13,2.32,2.51,2.7,2.88,3.07,3.26,3.45,3.64,3.83,4.01,4.2,4.39,4.58,4.82,5.05,5.24,5.43,5.62,
          5.85,6.09,6.28,6.47,6.65,6.84,7.03,7.22,7.64,7.78,8.0]
D_XI_y = [0.1,0.15,0.19,0.26,0.34,0.41,0.49,0.57,0.65,0.73,0.82,0.89,0.95,0.99,1.03,1.06,1.08,1.09,1.1,1.1,1.08,
          1.04,0.99,0.95,0.82,0.61,0.42,0.3,0.23,0.21,0.23,0.19,0.19,0.27,0.3,0.32,0.34,0.38,0.42,0.4,0.4,0.42,
          0.32,0.38,0.34,0.21,0.27,0.23,0.27,0.32,0.23,0.23,0.42]
D_XI_cx = [0.29,0.45,0.62,0.8,1.09,1.3,1.56,1.75,2.04,2.3,2.51,2.75,2.98,3.2,3.45,3.65,3.83,4.1,4.39,4.6,4.86,5.15,
           5.5,5.81,6.1,6.4,6.75,7.0,7.3,7.6,8.0]
D_XI_r1 = [0.1,0.25,0.42,0.62,0.87,1.0,1.07,1.08,1.0,0.83,0.65,0.46,0.32,0.23,0.18,0.16,0.17,0.22,0.3,0.34,0.37,0.38,
           0.37,0.36,0.34,0.33,0.34,0.37,0.42,0.48,0.55]
D_XI_r2 = D_XI_r1[:17] + [0.21,0.29,0.33,0.36,0.37,0.36,0.35,0.33,0.32,0.33,0.36,0.41,0.46,0.52]
D_XI_gr = D_XI_r1[:10] + [0.62,0.43,0.28,0.18,0.12,0.09,0.085,0.1,0.15,0.19,0.22,0.23,0.21,0.17,0.13,0.1,0.09,0.1,
                          0.12,0.15,0.17]

KRATKY_LEVELS = [1.1, 2.2, 3.3, 4.4, 5.5]
GUINIER_PEAK = 1.73
B_NAMES = [("RNaseA", 13.29, 5.24), ("lysozyme", 12.96, 4.16), ("xylanase", 12.96, 3.03),
           ("urate oxidase", 13.56, 1.90), ("xylose isomerase", 13.65, 0.81)]
D_NAMES = [("RNaseA", 7.77, 5.18), ("lysozyme", 7.74, 4.10), ("xylanase", 7.74, 2.38),
           ("urate oxidase", 7.74, 1.99), ("xylose isomerase", 7.79, 0.91)]

# ====================== STYLE / HELPERS ======================
RED = "#f2281c"
GREEN = "#3fe06e"
GREY = "#8c8c8c"
FONT = "Liberation Sans"


def base_fig(xr, yr, log, fw, fh, bl, br, bt, bb):
    p = figure(x_range=Range1d(*xr), y_range=Range1d(*yr), y_axis_type="log" if log else "linear",
               frame_width=fw, frame_height=fh, min_border_left=bl, min_border_right=br,
               min_border_top=bt, min_border_bottom=bb, output_backend="svg",
               toolbar_location=None, tools="")
    p.xgrid.visible = False
    p.ygrid.visible = False
    p.outline_line_color = "black"
    p.outline_line_width = 1.5
    p.background_fill_color = "white"
    p.border_fill_color = "white"
    return p


def style_axis(ax, show):
    ax.axis_line_color = "black"
    ax.axis_line_width = 1.5
    ax.major_tick_in = 7
    ax.major_tick_out = 0
    ax.minor_tick_in = 4
    ax.minor_tick_out = 0
    ax.major_tick_line_width = 1.5
    ax.minor_tick_line_width = 1.2
    ax.major_tick_line_color = "black"
    ax.minor_tick_line_color = "black"
    ax.major_label_text_font = FONT
    if show:
        ax.major_label_text_color = "black"
        ax.major_label_text_font_size = "16px"
        ax.major_label_standoff = 5
    else:
        ax.major_label_text_color = None
        ax.major_label_text_font_size = "1px"
        ax.major_label_standoff = 0


def setup_axes(p, xt, xminor, xfmt, yt, yminor, log, yfmt=None, yover=None):
    xtick = FixedTicker(ticks=xt, minor_ticks=xminor)
    ytick = FixedTicker(ticks=yt, minor_ticks=yminor)
    bx = p.xaxis[0]
    ly = p.yaxis[0]
    bx.ticker = xtick
    ly.ticker = ytick
    bx.formatter = PrintfTickFormatter(format=xfmt)
    if yfmt:
        ly.formatter = PrintfTickFormatter(format=yfmt)
    if yover:
        ly.major_label_overrides = yover
    top = LinearAxis(ticker=xtick)
    right = LogAxis(ticker=ytick) if log else LinearAxis(ticker=ytick)
    p.add_layout(top, "above")
    p.add_layout(right, "right")
    style_axis(bx, True)
    style_axis(ly, True)
    style_axis(top, False)
    style_axis(right, False)


def data_series(p, x, y, filled, size, err=None):
    n = min(len(x), len(y))
    x = x[:n]
    y = y[:n]
    if err is not None:
        lo = [max(v * (1 - e), 1e-9) for v, e in zip(y, err)]
        hi = [v * (1 + e) for v, e in zip(y, err)]
        xs = x[:len(lo)]
        p.segment(x0=xs, y0=lo, x1=xs, y1=hi, line_color=GREY, line_width=1)
        p.scatter(x=xs, y=hi, marker="dash", size=5, line_color=GREY, line_width=1)
        p.scatter(x=xs, y=lo, marker="dash", size=5, line_color=GREY, line_width=1)
    if filled:
        p.scatter(x=x, y=y, marker="square", size=size, fill_color="black", line_color="black", line_width=1)
    else:
        p.scatter(x=x, y=y, marker="square", size=size, fill_color=None, line_color="#303030", line_width=1)


def curve(p, x, y, color, lw=2.6):
    n = min(len(x), len(y))
    p.line(x=x[:n], y=y[:n], line_color=color, line_width=lw)


def curves(p, x, r1, r2, gr):
    curve(p, x, gr, GREEN)
    curve(p, x, r2, RED)
    curve(p, x, r1, RED)


TXT = "font-family:'Liberation Sans',Arial,sans-serif;font-size:20px;line-height:20px;color:#000;white-space:nowrap;"
SUB = "<span style='font-size:14px;position:relative;top:4px;'>g</span>"


def sup(t):
    return "<span style='font-size:13px;position:relative;top:-8px;'>" + t + "</span>"


IQ_Y_HTML = "<i>I</i>(<i>q</i>) (arbitrary units)"
IQ_X_HTML = "<i>q</i> (Å" + sup("&minus;1") + ")"
KR_Y_HTML = "(<i>qR</i>" + SUB + ")" + sup("2") + "<i>I</i>(<i>q</i>)/<i>I</i>(0)"
KR_X_HTML = "<i>qR</i>" + SUB


def hdiv(html, w, h, cx, baseline):
    top = baseline - 17
    inner = ("<div style='position:relative;width:%dpx;height:%dpx;'>"
             "<span style=\"position:absolute;left:%.1fpx;top:%.1fpx;transform:translateX(-50%%);%s\">%s</span></div>"
             % (w, h, cx, top, TXT, html))
    return Div(text=inner, width=w, height=h, margin=0)


def vdiv(html, w, h, cx, cy):
    inner = ("<div style='position:relative;width:%dpx;height:%dpx;'>"
             "<span style=\"position:absolute;left:%.1fpx;top:%.1fpx;"
             "transform:translate(-50%%,-50%%) rotate(-90deg);%s\">%s</span></div>"
             % (w, h, cx, cy, TXT, html))
    return Div(text=inner, width=w, height=h, margin=0)


def log_minor(decades):
    return [m * d for d in decades for m in range(2, 10)]


KR_YT = [0.0, 0.4, 0.8, 1.2, 1.6, 2.0, 2.4, 2.8, 3.2, 3.6, 4.0, 4.4, 4.8, 5.2, 5.6]
KR_YM = [0.2, 0.6, 1.0, 1.4, 1.8, 2.2, 2.6, 3.0, 3.4, 3.8, 4.2, 4.6, 5.0, 5.4]


def kratky_decor(p, names):
    for lv in KRATKY_LEVELS:
        p.add_layout(Span(location=lv, dimension="width", line_color="black", line_width=2, line_dash="12 6"))
    p.add_layout(Span(location=GUINIER_PEAK, dimension="height", line_color="black", line_width=2))
    for name, x, y in names:
        p.add_layout(Label(x=x, y=y, text=name, text_font=FONT, text_font_size="14px", text_align="right",
                           text_baseline="middle", text_color="black"))


FH_TOP = 457
FH_BOT = 458

# ====================== PANEL A ======================
pA = base_fig((0, 0.5), (1e-4, 240), True, 284, FH_TOP, 55, 9, 2, 27)
setup_axes(pA, [0.0, 0.1, 0.2, 0.3, 0.4, 0.5], [0.05, 0.15, 0.25, 0.35, 0.45], "%.1f",
           [0.0001, 0.001, 0.01, 0.1, 1, 10, 100], log_minor([0.0001, 0.001, 0.01, 0.1, 1, 10, 100]), True,
           yover={0.0001: "1E-4", 0.001: "0.001", 0.01: "0.01", 0.1: "0.1", 1: "1", 10: "10", 100: "100"})
data_series(pA, A_RN_q, A_RN_I, False, 6, A_RN_e)
data_series(pA, A_LY_q, A_LY_I, True, 6, A_LY_e)
data_series(pA, A_XN_q, A_XN_I, False, 6, A_XN_e)
data_series(pA, A_UO_q, A_UO_I, True, 6, A_UO_e)
data_series(pA, A_XI_q, A_XI_I, False, 6, A_XI_e)
curves(pA, A_RN_cq, A_RN_r1, A_RN_r2, A_RN_gr)
curves(pA, A_LY_cq, A_LY_r1, A_LY_r2, A_LY_gr)
curves(pA, A_XN_cq, A_XN_r1, A_XN_r2, A_XN_gr)
curves(pA, A_UO_cq, A_UO_r1, A_UO_r2, A_UO_gr)
curves(pA, A_XI_cq, A_XI_r1, A_XI_r2, A_XI_gr)

# ====================== PANEL B ======================
pB = base_fig((0, 14), (0, 5.8), False, 284, FH_TOP, 40, 5, 2, 27)
setup_axes(pB, [0, 2, 4, 6, 8, 10, 12, 14], [1, 3, 5, 7, 9, 11, 13], "%d", KR_YT, KR_YM, False, yfmt="%.1f")
kratky_decor(pB, B_NAMES)
data_series(pB, B_RN_x, B_RN_y, False, 6.5)
data_series(pB, B_LY_x, B_LY_y, True, 6.5)
data_series(pB, B_XN_x, B_XN_y, False, 6.5)
data_series(pB, B_UO_x, B_UO_y, True, 6.5)
data_series(pB, B_XI_x, B_XI_y, False, 6.5)
curves(pB, B_RN_cx, B_RN_r1, B_RN_r2, B_RN_gr)
curves(pB, B_LY_cx, B_LY_r1, B_LY_r2, B_LY_gr)
curves(pB, B_XN_cx, B_XN_r1, B_XN_r2, B_XN_gr)
curves(pB, B_UO_cx, B_UO_r1, B_UO_r2, B_UO_gr)
curves(pB, B_XI_cx, B_XI_r1, B_XI_r2, B_XI_gr)

# ====================== PANEL C ======================
pC = base_fig((0, 0.3), (0.001, 300), True, 285, FH_BOT, 52, 9, 24, 27)
setup_axes(pC, [0.0, 0.1, 0.2, 0.3], [0.05, 0.15, 0.25], "%.1f",
           [0.001, 0.01, 0.1, 1, 10, 100], log_minor([0.001, 0.01, 0.1, 1, 10, 100]), True,
           yover={0.001: "0.001", 0.01: "0.01", 0.1: "0.1", 1: "1", 10: "10", 100: "100"})
data_series(pC, C_RN_q, C_RN_I, False, 6.5, C_RN_e)
data_series(pC, C_LY_q, C_LY_I, True, 6.5, C_LY_e)
data_series(pC, C_XN_q, C_XN_I, False, 6.5, C_XN_e)
data_series(pC, C_UO_q, C_UO_I, True, 6.5, C_UO_e)
data_series(pC, C_XI_q, C_XI_I, False, 6.5, C_XI_e)
curves(pC, C_RN_cq, C_RN_r1, C_RN_r2, C_RN_gr)
curves(pC, C_LY_cq, C_LY_r1, C_LY_r2, C_LY_gr)
curves(pC, C_XN_cq, C_XN_r1, C_XN_r2, C_XN_gr)
curves(pC, C_UO_cq, C_UO_r1, C_UO_r2, C_UO_gr)
curves(pC, C_XI_cq, C_XI_r1, C_XI_r2, C_XI_gr)

# ====================== PANEL D ======================
pD = base_fig((0, 8), (0, 5.8), False, 283, FH_BOT, 38, 6, 24, 27)
setup_axes(pD, [0, 1, 2, 3, 4, 5, 6, 7, 8], [0.5, 1.5, 2.5, 3.5, 4.5, 5.5, 6.5, 7.5], "%d", KR_YT, KR_YM, False,
           yfmt="%.1f")
kratky_decor(pD, D_NAMES)
data_series(pD, D_RN_x, D_RN_y, False, 6.5)
data_series(pD, D_LY_x, D_LY_y, True, 6.5)
data_series(pD, D_XN_x, D_XN_y, False, 6.5)
data_series(pD, D_UO_x, D_UO_y, True, 6.5)
data_series(pD, D_XI_x, D_XI_y, False, 6.5)
curves(pD, D_RN_cx, D_RN_r1, D_RN_r2, D_RN_gr)
curves(pD, D_LY_cx, D_LY_r1, D_LY_r2, D_LY_gr)
curves(pD, D_XN_cx, D_XN_r1, D_XN_r2, D_XN_gr)
curves(pD, D_UO_cx, D_UO_r1, D_UO_r2, D_UO_gr)
curves(pD, D_XI_cx, D_XI_r1, D_XI_r2, D_XI_gr)

# ====================== AXIS TITLES (HTML text) ======================
yA = vdiv(IQ_Y_HTML, 24, 513, 12, 232)
xA = hdiv(IQ_X_HTML, 348, 27, 197, 21)
yB = vdiv(KR_Y_HTML, 50, 513, 37, 234)
xB = hdiv(KR_X_HTML, 329, 27, 182, 19)
yC = vdiv(IQ_Y_HTML, 24, 534, 12, 253)
xC = hdiv(IQ_X_HTML, 346, 25, 194.5, 19)
yD = vdiv(KR_Y_HTML, 50, 534, 35, 253)
xD = hdiv(KR_X_HTML, 327, 25, 179.5, 18)

layout = column(row(yA, column(pA, xA), yB, column(pB, xB)),
                row(yC, column(pC, xC), yD, column(pD, xD)))
open("out.html", "w").write(file_html(layout, INLINE))
